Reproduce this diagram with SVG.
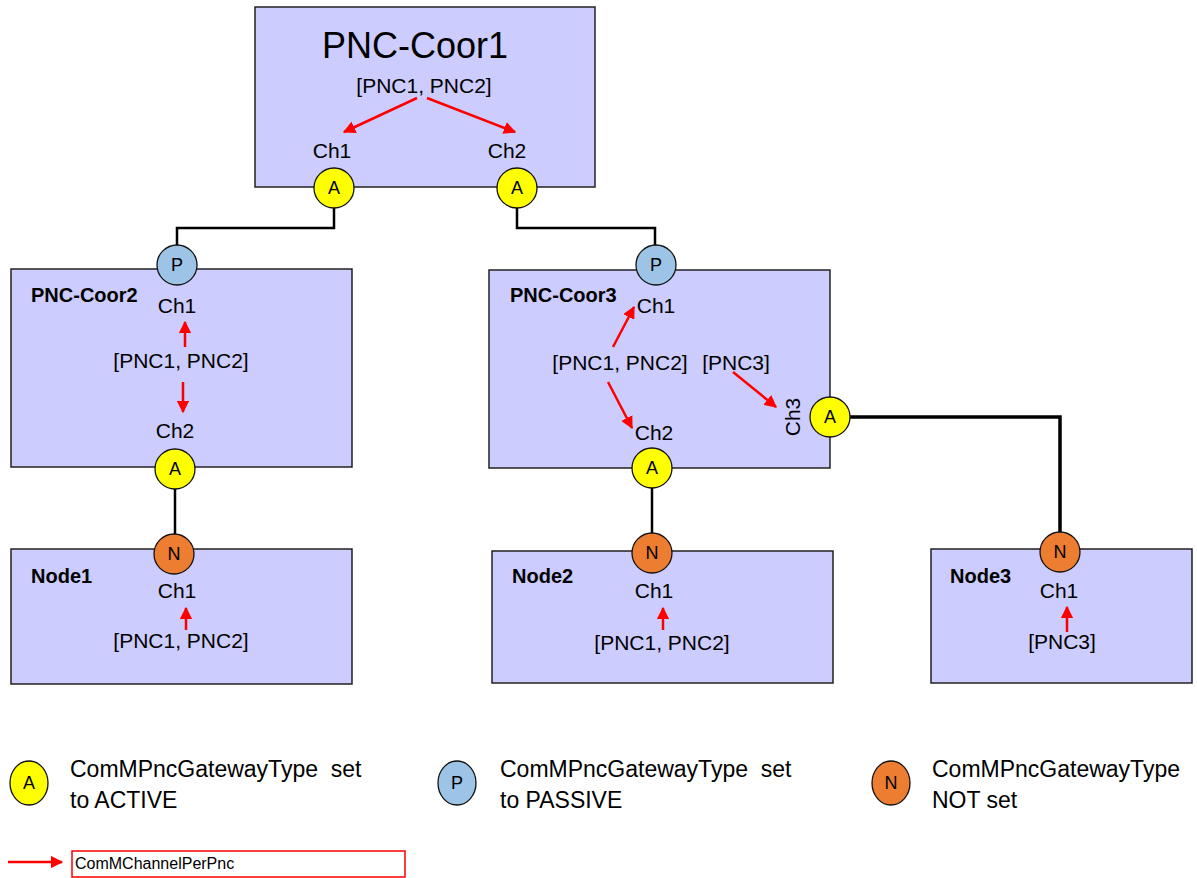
<svg xmlns="http://www.w3.org/2000/svg" width="1197" height="878" viewBox="0 0 1197 878">
<defs>
<style>
text{font-family:"Liberation Sans",Arial,sans-serif;fill:#000}
.box{fill:#CCCCFF;stroke:#222;stroke-width:1.5}
.a{fill:#FFFF00;stroke:#111;stroke-width:1.3}
.p{fill:#9DC3E6;stroke:#111;stroke-width:1.3}
.n{fill:#ED7D31;stroke:#111;stroke-width:1.3}
.lt{font-size:18px;text-anchor:middle}
.ch{font-size:21px;text-anchor:middle}
.pl{font-size:21px;text-anchor:middle}
.bl{font-size:20px;font-weight:bold}
.leg{font-size:23px;white-space:pre}
.ra{stroke:#FF0000;stroke-width:2.5;fill:none;marker-end:url(#ah)}
.wire{stroke:#000;stroke-width:2.5;fill:none}
</style>
<marker id="ah" viewBox="0 0 10 10" refX="9" refY="5" markerWidth="5" markerHeight="5" orient="auto" markerUnits="strokeWidth">
<path d="M0,0 L10,5 L0,10 z" fill="#FF0000"/>
</marker>
</defs>
<rect width="1197" height="878" fill="#fff"/>

<g id="connectors">
<path class="wire" d="M334,208 V228 H177 V245"/>
<path class="wire" d="M517,208 V228 H655 V245"/>
<path class="wire" d="M175,489 V534"/>
<path class="wire" d="M652,488 V533"/>
<path class="wire" d="M850,417 H1060 V532" style="stroke-width:3.5"/>
</g>

<g id="pnc-coor1">
<rect class="box" x="255" y="7" width="340" height="180"/>
<text x="415" y="58" style="font-size:36px;text-anchor:middle">PNC-Coor1</text>
<text class="pl" x="424" y="93">[PNC1, PNC2]</text>
<path class="ra" d="M417,98 L344,132"/>
<path class="ra" d="M427,98 L515,132"/>
<text class="ch" x="332" y="158">Ch1</text>
<text class="ch" x="507" y="158">Ch2</text>
<circle class="a" cx="334" cy="188" r="20"/><text class="lt" x="334" y="194">A</text>
<circle class="a" cx="517" cy="188" r="20"/><text class="lt" x="517" y="194">A</text>
</g>

<g id="pnc-coor2">
<rect class="box" x="11" y="269" width="341" height="198"/>
<text class="bl" x="31" y="302">PNC-Coor2</text>
<circle class="p" cx="177" cy="265" r="20"/><text class="lt" x="177" y="271">P</text>
<text class="ch" x="177" y="313">Ch1</text>
<path class="ra" d="M185,347 L185,322"/>
<text class="pl" x="181" y="368">[PNC1, PNC2]</text>
<path class="ra" d="M183,382 L183,412"/>
<text class="ch" x="175" y="438">Ch2</text>
<circle class="a" cx="175" cy="469" r="20"/><text class="lt" x="175" y="475">A</text>
</g>

<g id="pnc-coor3">
<rect class="box" x="489" y="270" width="341" height="198"/>
<text class="bl" x="510" y="302">PNC-Coor3</text>
<circle class="p" cx="656" cy="265" r="20"/><text class="lt" x="656" y="271">P</text>
<text class="ch" x="656" y="313">Ch1</text>
<text class="pl" x="620" y="370">[PNC1, PNC2]</text>
<text class="pl" x="736" y="370">[PNC3]</text>
<path class="ra" d="M613,347 L634,307"/>
<path class="ra" d="M608,382 L632,428"/>
<path class="ra" d="M733,372 L776,407"/>
<text class="ch" transform="translate(800,417) rotate(-90)">Ch3</text>
<text class="ch" x="654" y="440">Ch2</text>
<circle class="a" cx="830" cy="417" r="20"/><text class="lt" x="830" y="423">A</text>
<circle class="a" cx="652" cy="468" r="20"/><text class="lt" x="652" y="474">A</text>
</g>

<g id="node1">
<rect class="box" x="11" y="549" width="341" height="135"/>
<circle class="n" cx="174" cy="554" r="20"/><text class="lt" x="174" y="560">N</text>
<text class="bl" x="31" y="583">Node1</text>
<text class="ch" x="177" y="598">Ch1</text>
<path class="ra" d="M186,630 L186,608"/>
<text class="pl" x="181" y="648">[PNC1, PNC2]</text>
</g>

<g id="node2">
<rect class="box" x="492" y="551" width="341" height="132"/>
<circle class="n" cx="652" cy="553" r="20"/><text class="lt" x="652" y="559">N</text>
<text class="bl" x="512" y="583">Node2</text>
<text class="ch" x="654" y="598">Ch1</text>
<path class="ra" d="M663,630 L663,608"/>
<text class="pl" x="662" y="650">[PNC1, PNC2]</text>
</g>

<g id="node3">
<rect class="box" x="931" y="549" width="261" height="134"/>
<circle class="n" cx="1060" cy="552" r="20"/><text class="lt" x="1060" y="558">N</text>
<text class="bl" x="950" y="583">Node3</text>
<text class="ch" x="1059" y="598">Ch1</text>
<path class="ra" d="M1067,632 L1067,607"/>
<text class="pl" x="1062" y="649">[PNC3]</text>
</g>

<g id="legend">
<ellipse class="a" cx="29" cy="783" rx="19" ry="22"/><text class="lt" x="29" y="789">A</text>
<text class="leg" x="70" y="777">ComMPncGatewayType&#160; set</text>
<text class="leg" x="70" y="808">to ACTIVE</text>
<ellipse class="p" cx="457" cy="783" rx="19" ry="22"/><text class="lt" x="457" y="789">P</text>
<text class="leg" x="500" y="777">ComMPncGatewayType&#160; set</text>
<text class="leg" x="500" y="808">to PASSIVE</text>
<ellipse class="n" cx="891" cy="783" rx="19" ry="22"/><text class="lt" x="891" y="789">N</text>
<text class="leg" x="932" y="777">ComMPncGatewayType</text>
<text class="leg" x="932" y="808">NOT set</text>
<path class="ra" d="M8,862 L62,862"/>
<rect x="72" y="851" width="333" height="26" fill="none" stroke="#FF0000" stroke-width="1.5"/>
<text x="75" y="869" style="font-size:16px">ComMChannelPerPnc</text>
</g>
</svg>
